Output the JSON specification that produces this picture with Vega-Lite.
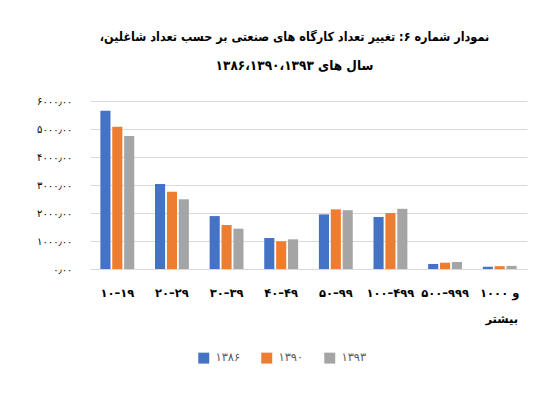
{
  "$schema": "https://vega.github.io/schema/vega-lite/v6.json",
  "autosize": {"type": "none"},
  "width": 437,
  "height": 168,
  "padding": {"left": 90, "top": 101, "right": 23, "bottom": 130},
  "background": "white",
  "title": {
    "text": "نمودار شماره ۶: تغییر تعداد کارگاه های صنعتی بر حسب تعداد شاغلین،\u200f",
    "subtitle": "سال های ۱۳۸۶،۱۳۹۰،۱۳۹۳",
    "font": "DejaVu Sans Condensed",
    "fontSize": 12.5,
    "fontWeight": "bold",
    "color": "#000000",
    "subtitleFont": "DejaVu Sans Condensed",
    "subtitleFontSize": 13.5,
    "subtitleFontWeight": "bold",
    "subtitleColor": "#000000",
    "subtitlePadding": 15,
    "offset": 24,
    "anchor": "middle",
    "dx": -14
  },
  "data": {
    "values": [
      {"group": "۱۰–۱۹", "year": "۱۳۸۶", "value": 5650},
      {"group": "۱۰–۱۹", "year": "۱۳۹۰", "value": 5080},
      {"group": "۱۰–۱۹", "year": "۱۳۹۳", "value": 4750},
      {"group": "۲۰–۲۹", "year": "۱۳۸۶", "value": 3035},
      {"group": "۲۰–۲۹", "year": "۱۳۹۰", "value": 2760},
      {"group": "۲۰–۲۹", "year": "۱۳۹۳", "value": 2490},
      {"group": "۳۰–۳۹", "year": "۱۳۸۶", "value": 1890},
      {"group": "۳۰–۳۹", "year": "۱۳۹۰", "value": 1570},
      {"group": "۳۰–۳۹", "year": "۱۳۹۳", "value": 1440},
      {"group": "۴۰–۴۹", "year": "۱۳۸۶", "value": 1107},
      {"group": "۴۰–۴۹", "year": "۱۳۹۰", "value": 990},
      {"group": "۴۰–۴۹", "year": "۱۳۹۳", "value": 1060},
      {"group": "۵۰–۹۹", "year": "۱۳۸۶", "value": 1950},
      {"group": "۵۰–۹۹", "year": "۱۳۹۰", "value": 2130},
      {"group": "۵۰–۹۹", "year": "۱۳۹۳", "value": 2100},
      {"group": "۱۰۰–۴۹۹", "year": "۱۳۸۶", "value": 1857},
      {"group": "۱۰۰–۴۹۹", "year": "۱۳۹۰", "value": 2000},
      {"group": "۱۰۰–۴۹۹", "year": "۱۳۹۳", "value": 2150},
      {"group": "۵۰۰–۹۹۹", "year": "۱۳۸۶", "value": 180},
      {"group": "۵۰۰–۹۹۹", "year": "۱۳۹۰", "value": 225},
      {"group": "۵۰۰–۹۹۹", "year": "۱۳۹۳", "value": 250},
      {"group": "۱۰۰۰ و بیشتر", "year": "۱۳۸۶", "value": 80},
      {"group": "۱۰۰۰ و بیشتر", "year": "۱۳۹۰", "value": 100},
      {"group": "۱۰۰۰ و بیشتر", "year": "۱۳۹۳", "value": 110}
    ]
  },
  "mark": {"type": "bar"},
  "encoding": {
    "x": {
      "field": "group",
      "type": "nominal",
      "sort": null,
      "scale": {"paddingInner": 0.38, "paddingOuter": 0.19},
      "axis": {
        "title": null,
        "labelAngle": 0,
        "ticks": false,
        "domain": true,
        "domainColor": "#D9D9D9",
        "labelPadding": 18,
        "labelFont": "DejaVu Sans",
        "labelFontSize": 11.5,
        "labelFontWeight": "bold",
        "labelColor": "#000000",
        "labelLimit": 0,
        "labelLineHeight": 26,
        "labelExpr": "datum.value == '۱۰۰۰ و بیشتر' ? ['\u2066\u202d۱۰۰۰ و\u202c\u2069', '\u2066      بیشتر\u2069'] : datum.value"
      }
    },
    "xOffset": {"field": "year", "type": "nominal", "scale": {"paddingInner": 0.15}},
    "y": {
      "field": "value",
      "type": "quantitative",
      "scale": {"domain": [0, 6000]},
      "axis": {
        "title": null,
        "values": [0, 1000, 2000, 3000, 4000, 5000, 6000],
        "ticks": false,
        "domain": false,
        "gridColor": "#D9D9D9",
        "labelPadding": 18,
        "labelFont": "DejaVu Sans",
        "labelFontSize": 10,
        "labelColor": "#000000",
        "labelExpr": "datum.value == 0 ? '۰٫۰۰' : datum.value == 1000 ? '۱۰۰۰٫۰۰' : datum.value == 2000 ? '۲۰۰۰٫۰۰' : datum.value == 3000 ? '۳۰۰۰٫۰۰' : datum.value == 4000 ? '۴۰۰۰٫۰۰' : datum.value == 5000 ? '۵۰۰۰٫۰۰' : '۶۰۰۰٫۰۰'"
      }
    },
    "color": {
      "field": "year",
      "type": "nominal",
      "scale": {"domain": ["۱۳۸۶", "۱۳۹۰", "۱۳۹۳"], "range": ["#4472C4", "#ED7D31", "#A5A5A5"]},
      "legend": {
        "title": null,
        "orient": "none",
        "legendX": 108,
        "legendY": 251,
        "direction": "horizontal",
        "symbolType": "square",
        "symbolSize": 120,
        "symbolStrokeWidth": 0,
        "labelFont": "DejaVu Sans",
        "labelFontSize": 11.5,
        "labelColor": "#595959",
        "labelOffset": 6,
        "columnPadding": 20
      }
    }
  },
  "config": {"view": {"stroke": null}}
}
